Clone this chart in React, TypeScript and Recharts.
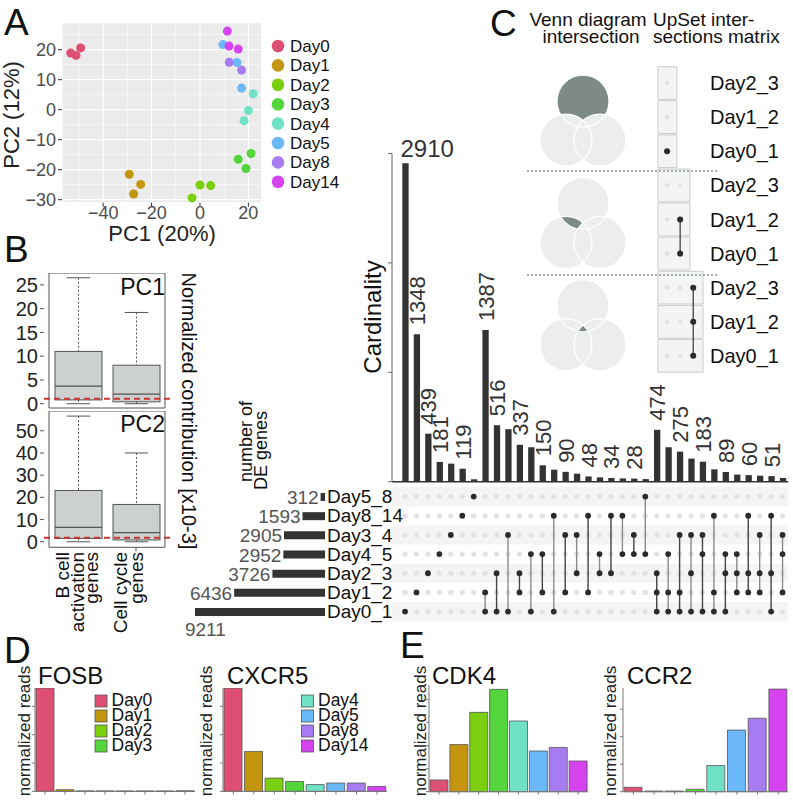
import React from "react";
import {
  ScatterChart,
  Scatter,
  BarChart,
  Bar,
  XAxis,
  YAxis,
  CartesianGrid,
  ReferenceLine,
  ReferenceArea,
  LabelList,
  Cell,
} from "recharts";

const FONT = "'Liberation Sans', Arial, Helvetica, sans-serif";
const INK = "#333333";

// shared palette
const days = ["Day0", "Day1", "Day2", "Day3", "Day4", "Day5", "Day8", "Day14"];
const dayColors = ["#dd5074", "#c4960f", "#7ccf0f", "#55d53c", "#70e0c6", "#6bb8f8", "#a77cf0", "#d443ee"];

// A: PCA
const pcaDay0 = [[-53.4, 18.9], [-51.2, 18.1], [-49.3, 20.6]];
const pcaDay1 = [[-29.2, -21.5], [-24.5, -24.9], [-27.4, -28.1]];
const pcaDay2 = [[-3.3, -29.4], [0, -25.1], [4.4, -25.3]];
const pcaDay3 = [[15.8, -16.5], [19.0, -19.6], [21.1, -14.6]];
const pcaDay4 = [[20.0, -0.3], [18.2, -3.7], [22.0, 5.3]];
const pcaDay5 = [[9.5, 21.7], [15.3, 15.7], [17.2, 7.2]];
const pcaDay8 = [[12.1, 15.8], [17.2, 13.2]];
const pcaDay14 = [[11.3, 26.2], [12.0, 21.2], [15.8, 20.2]];
const pcaGroups = [pcaDay0, pcaDay1, pcaDay2, pcaDay3, pcaDay4, pcaDay5, pcaDay8, pcaDay14];
const pc1Ticks = [-40, -20, 0, 20];
const pc1Minor = [-50, -30, -10, 10];
const pc2Ticks = [-30, -20, -10, 0, 10, 20];
const pc2Minor = [-25, -15, -5, 5, 15, 25];

// B: gene contributions (box stats, x10-3)
const boxNames = ["B cell activation genes", "Cell cycle genes"];
const pc1Min = [0, 0];
const pc1Q1 = [0.8, 0.4];
const pc1Median = [3.7, 2.0];
const pc1Q3 = [11.0, 8.1];
const pc1Max = [26.5, 19.2];
const pc1Cutoff = 1.05;
const pc2Min = [0, 0];
const pc2Q1 = [1.5, 0.8];
const pc2Median = [6.5, 4.1];
const pc2Q3 = [23.1, 16.8];
const pc2Max = [56.6, 40.0];
const pc2Cutoff = 1.8;

// C: UpSet
const setRows = ["Day5_8", "Day8_14", "Day3_4", "Day4_5", "Day2_3", "Day1_2", "Day0_1"];
const setSizes = [312, 1593, 2905, 2952, 3726, 6436, 9211];
const intersectionSizes = [
  2910, 1348, 439, 181, 165, 119, 22,
  1387, 516, 480, 337, 315, 150, 110, 90, 73, 48, 40, 34, 30, 28, 24,
  474, 315, 275, 211, 183, 113, 89, 65, 60, 55, 51, 34,
];
const labelledIntersections = [1, 2, 3, 4, 6, 8, 9, 11, 13, 15, 17, 19, 21, 23, 25, 27, 29, 31, 33];
const intersectionSets = [
  ["Day0_1"], ["Day1_2"], ["Day2_3"], ["Day4_5"], ["Day3_4"], ["Day8_14"], ["Day5_8"],
  ["Day0_1", "Day1_2"], ["Day0_1", "Day2_3"], ["Day0_1", "Day3_4"], ["Day1_2", "Day2_3"],
  ["Day0_1", "Day4_5"], ["Day1_2", "Day4_5"], ["Day0_1", "Day8_14"], ["Day1_2", "Day3_4"],
  ["Day2_3", "Day3_4"], ["Day1_2", "Day8_14"], ["Day2_3", "Day4_5"], ["Day2_3", "Day8_14"],
  ["Day4_5", "Day8_14"], ["Day3_4", "Day4_5"], ["Day4_5", "Day5_8"],
  ["Day0_1", "Day1_2", "Day2_3"], ["Day0_1", "Day1_2", "Day4_5"], ["Day0_1", "Day1_2", "Day3_4"],
  ["Day0_1", "Day2_3", "Day3_4"], ["Day0_1", "Day3_4", "Day4_5"], ["Day0_1", "Day1_2", "Day8_14"],
  ["Day0_1", "Day2_3", "Day4_5"], ["Day1_2", "Day2_3", "Day4_5"], ["Day1_2", "Day2_3", "Day8_14"],
  ["Day1_2", "Day2_3", "Day3_4"], ["Day0_1", "Day2_3", "Day8_14"], ["Day1_2", "Day3_4", "Day4_5"],
];
const cardTicks = [0, 1000, 2000, 3000];

// C legend (Venn / matrix explanation)
const legendRows = ["Day2_3", "Day1_2", "Day0_1"];
const legendSets = [["Day0_1"], ["Day0_1", "Day1_2"], ["Day0_1", "Day1_2", "Day2_3"]];
const vennCircles = ["Day0_1", "Day1_2", "Day2_3"]; // top, left, right

// D / E: normalized reads per day
const fosbReads = [3650, 60, 18, 18, 15, 15, 15, 22];
const cxcr5Reads = [365, 141, 47, 35, 24, 29.5, 29.5, 17.5];
const cdk4Reads = [10.2, 41, 69, 89, 61.5, 35.4, 38.5, 26.7];
const ccr2Reads = [1.6, 0.25, 0.25, 0.9, 9.5, 22.4, 26.7, 37.3];

const tickStyle = (size: number, fill: string) => ({ fontSize: size, fill, fontFamily: FONT });
const emptyTick = () => <g />;

function BoxShape(props: any) {
  const { x, width, payload } = props;
  const top = Math.min(props.y, props.y + props.height);
  const h = Math.abs(props.height);
  const [q1, q3] = payload.box;
  const k = h / (q3 - q1);
  const cx = x + width / 2;
  const yMed = top + (q3 - payload.median) * k;
  const yMax = top - (payload.max - q3) * k;
  const yMin = top + h + (q1 - payload.min) * k;
  const cap = width * 0.25;
  return (
    <g>
      <line x1={cx} x2={cx} y1={yMax} y2={top} stroke="#555" strokeDasharray="2 2" />
      <line x1={cx} x2={cx} y1={top + h} y2={yMin} stroke="#555" strokeDasharray="2 2" />
      <line x1={cx - cap} x2={cx + cap} y1={yMax} y2={yMax} stroke="#555" />
      <line x1={cx - cap} x2={cx + cap} y1={yMin} y2={yMin} stroke="#555" />
      <rect x={x} y={top} width={width} height={h} fill="#ccd1d0" stroke="#555" />
      <line x1={x} x2={x + width} y1={yMed} y2={yMed} stroke="#555" strokeWidth={1.3} />
    </g>
  );
}

function BoxPanel({ top, height, bottomPad, mins, q1s, medians, q3s, maxs, cutoff, domain, ticks, showX }: any) {
  const data = boxNames.map((name, i) => ({
    name,
    box: [q1s[i], q3s[i]],
    min: mins[i],
    median: medians[i],
    max: maxs[i],
  }));
  return (
    <div style={{ position: "absolute", left: 0, top }}>
      <BarChart width={170} height={height + bottomPad} data={data} margin={{ top: 0, right: 0, bottom: bottomPad, left: 0 }}>
        <XAxis
          dataKey="name"
          hide={!showX}
          padding={{ left: 5, right: 5 }}
          tick={emptyTick}
          tickSize={4}
          height={6}
          axisLine={false}
          tickLine={{ stroke: "#555" }}
        />
        <YAxis
          type="number"
          domain={domain}
          ticks={ticks}
          interval={0}
          width={44}
          allowDataOverflow
          tickSize={4}
          tickMargin={2}
          axisLine={false}
          tickLine={{ stroke: "#555" }}
          tick={tickStyle(20, "#222")}
        />
        <ReferenceArea y1={domain[0]} y2={domain[1]} fill="#ffffff" fillOpacity={0} stroke="#555" strokeWidth={1} />
        <Bar dataKey="box" barSize={47} shape={BoxShape} isAnimationActive={false} />
        <ReferenceLine y={cutoff} stroke="#c8342f" strokeDasharray="6 4" strokeWidth={1.8} />
      </BarChart>
    </div>
  );
}

function ExprChart({ left, top, plotWidth, plotHeight, values, domainMax, ticks }: any) {
  const data = days.map((d, i) => ({ day: d, reads: values[i] }));
  return (
    <div style={{ position: "absolute", left, top }}>
      <BarChart
        width={35 + plotWidth}
        height={plotHeight + 6}
        data={data}
        margin={{ top: 0, right: 0, bottom: 0, left: 0 }}
        barSize={18}
      >
        <XAxis dataKey="day" tick={emptyTick} tickSize={3} height={6} interval={0} axisLine={{ stroke: "#777" }} tickLine={{ stroke: "#777" }} />
        <YAxis
          type="number"
          domain={[0, domainMax]}
          ticks={ticks}
          interval={0}
          width={35}
          tick={emptyTick}
          tickSize={3}
          axisLine={{ stroke: "#777" }}
          tickLine={{ stroke: "#777" }}
        />
        <Bar dataKey="reads" stroke="#555" strokeWidth={0.8} isAnimationActive={false}>
          {data.map((d, i) => (
            <Cell key={d.day} fill={dayColors[i]} />
          ))}
        </Bar>
      </BarChart>
    </div>
  );
}

function renderCardLabel(p: any) {
  if (p.value == null) return null;
  const cx = p.x + p.width / 2;
  if (p.index === 0) {
    return (
      <text x={cx - 5} y={p.y - 6} fontSize={24} fill={INK} fontFamily={FONT}>
        {p.value}
      </text>
    );
  }
  const bx = cx + 8;
  const by = p.y - 9;
  return (
    <text x={bx} y={by} transform={`rotate(-90 ${bx} ${by})`} fontSize={22} fill={INK} fontFamily={FONT}>
      {p.value}
    </text>
  );
}

function renderSetLabel(p: any) {
  const left = Math.min(p.x, p.x + p.width);
  const cy = p.y + p.height / 2;
  if (p.value === Math.max(...setSizes)) {
    return (
      <text x={left - 10} y={cy + 24} fontSize={19} fill="#555" fontFamily={FONT}>
        {p.value}
      </text>
    );
  }
  return (
    <text x={left - 2} y={cy + 7} fontSize={19} fill="#555" textAnchor="end" fontFamily={FONT}>
      {p.value}
    </text>
  );
}

function VennShape(props: any) {
  const { cx, cy, payload } = props;
  const r = 26;
  const pos = [
    [cx, cy - 16],
    [cx - 17, cy + 23],
    [cx + 17, cy + 23],
  ];
  const inc = vennCircles.map((s) => payload.sets.includes(s));
  const id = `venn${payload.group}`;
  const light = "#eceeed";
  const dark = "#7e8a88";
  const excluded = pos.filter((_, i) => !inc[i]);
  let hl: any = (
    <g>
      <rect x={cx - 60} y={cy - 60} width={120} height={120} fill={dark} />
      {excluded.map((c, i) => (
        <circle key={i} cx={c[0]} cy={c[1]} r={r} fill={light} />
      ))}
    </g>
  );
  pos.forEach((c, i) => {
    if (inc[i]) hl = <g clipPath={`url(#${id}c${i})`}>{hl}</g>;
  });
  return (
    <g>
      <defs>
        {pos.map((c, i) => (
          <clipPath key={i} id={`${id}c${i}`}>
            <circle cx={c[0]} cy={c[1]} r={r} />
          </clipPath>
        ))}
      </defs>
      {pos.map((c, i) => (
        <circle key={i} cx={c[0]} cy={c[1]} r={r} fill={light} />
      ))}
      {hl}
      {pos.map((c, i) => (
        <circle key={"o" + i} cx={c[0]} cy={c[1]} r={r} fill="none" stroke="#ffffff" strokeWidth={1.2} />
      ))}
    </g>
  );
}

function Overlay() {
  const t = (x: number, y: number, s: string, size: number, extra: any = {}) => (
    <text x={x} y={y} fontSize={size} fontFamily={FONT} fill="#111" {...extra}>
      {s}
    </text>
  );
  const rot = (x: number, y: number, s: string, size: number, angle: number, anchor = "middle", fill = "#111") => (
    <text
      x={x}
      y={y}
      fontSize={size}
      fontFamily={FONT}
      fill={fill}
      textAnchor={anchor}
      transform={`rotate(${angle} ${x} ${y})`}
    >
      {s}
    </text>
  );
  return (
    <svg width={793} height={800} style={{ position: "absolute", left: 0, top: 0, pointerEvents: "none" }}>
      {/* panel letters */}
      {t(4, 35, "A", 37)}
      {t(4, 262, "B", 37)}
      {t(490, 36, "C", 37)}
      {t(4, 663, "D", 37)}
      {t(400, 658, "E", 37)}

      {/* A */}
      {rot(19, 115, "PC2 (12%)", 22, -90, "middle", "#222")}
      {t(162, 241, "PC1 (20%)", 22, { textAnchor: "middle", fill: "#222" })}
      {days.map((d, i) => (
        <g key={d}>
          <circle cx={278} cy={46 + i * 19.4} r={6.3} fill={dayColors[i]} />
          {t(290, 46 + i * 19.4 + 6, d, 17)}
        </g>
      ))}

      {/* B */}
      {t(165, 295, "PC1", 23, { textAnchor: "end" })}
      {t(165, 432, "PC2", 23, { textAnchor: "end" })}
      {rot(182, 411, "Normalized contribution [x10-3]", 20, 90)}
      {rot(69, 552, "B cell", 19, -90, "end")}
      {rot(84, 552, "activation", 19, -90, "end")}
      {rot(98, 552, "genes", 19, -90, "end")}
      {rot(127, 552, "Cell cycle", 19, -90, "end")}
      {rot(143, 552, "genes", 19, -90, "end")}

      {/* C */}
      {t(588, 26, "Venn diagram", 19, { textAnchor: "middle" })}
      {t(591, 43, "intersection", 19, { textAnchor: "middle" })}
      {t(653, 26, "UpSet inter-", 19)}
      {t(653, 43, "sections matrix", 19)}
      <line x1={527} x2={719} y1={171} y2={171} stroke="#8a9493" strokeWidth={1.6} strokeDasharray="2 2" />
      <line x1={527} x2={719} y1={275} y2={275} stroke="#8a9493" strokeWidth={1.6} strokeDasharray="2 2" />
      {rot(381, 317, "Cardinality", 24, -90)}
      {rot(252, 482, "number of", 18, -90, "start")}
      {rot(267, 490, "DE genes", 18, -90, "start")}

      {/* D / E */}
      {t(38, 684, "FOSB", 24)}
      {t(227, 684, "CXCR5", 24)}
      {t(432, 684, "CDK4", 24)}
      {t(627, 684, "CCR2", 24)}
      {rot(30, 731, "normalized reads", 17, -90, "middle", "#222")}
      {rot(212, 731, "normalized reads", 17, -90, "middle", "#222")}
      {rot(426, 731, "normalized reads", 17, -90, "middle", "#222")}
      {rot(616, 731, "normalized reads", 17, -90, "middle", "#222")}
      {days.slice(0, 4).map((d, i) => (
        <g key={d}>
          <rect x={95} y={695 + i * 15} width={12} height={12} fill={dayColors[i]} stroke="#555" strokeWidth={0.8} />
          {t(111.5, 705.5 + i * 15, d, 17.5)}
        </g>
      ))}
      {days.slice(4).map((d, i) => (
        <g key={d}>
          <rect x={301.5} y={695 + i * 15} width={12} height={12} fill={dayColors[i + 4]} stroke="#555" strokeWidth={0.8} />
          {t(318, 705.5 + i * 15, d, 17.5)}
        </g>
      ))}
    </svg>
  );
}

export default function App() {
  const cardData = intersectionSizes.map((v, i) => ({
    col: i + 1,
    size: v,
    label: labelledIntersections.includes(i + 1) ? v : null,
  }));
  const setData = setRows.map((name, i) => ({ name, size: setSizes[i] }));
  const rowY = (s: string) => setRows.length - 1 - setRows.indexOf(s);
  const bgDots: any[] = [];
  intersectionSizes.forEach((_, i) => setRows.forEach((s) => bgDots.push({ x: i + 1, y: rowY(s) })));
  const stripeRows = [0, 2, 4, 6];

  const legendBoxes: any[] = [];
  const legendLight: any[] = [];
  const legendDark: any[][] = [];
  legendSets.forEach((sets, g) => {
    const active: any[] = [];
    legendRows.forEach((s, r) => {
      const row = g * 3 + r;
      legendBoxes.push({ row, ncol: g + 1 });
      for (let c = 0; c <= g; c++) {
        if (c === g && sets.includes(s)) active.push({ x: c, y: row });
        else legendLight.push({ x: c, y: row });
      }
    });
    legendDark.push(active);
  });
  const vennData = legendSets.map((sets, g) => ({ x: 0.5, y: g * 3 + 1, sets, group: g }));

  return (
    <div
      style={{
        position: "absolute",
        left: 0,
        top: 0,
        width: 793,
        height: 800,
        background: "#ffffff",
        fontFamily: FONT,
        overflow: "hidden",
      }}
    >
      {/* A: PCA */}
      <div style={{ position: "absolute", left: 0, top: 0 }}>
        <ScatterChart width={262} height={245} margin={{ top: 22.7, right: 0.3, bottom: 0, left: 0 }}>
          <CartesianGrid fill="#ebebeb" stroke="#ffffff" strokeWidth={1.2} />
          {pc1Minor.map((v) => (
            <ReferenceLine key={"mx" + v} x={v} stroke="#ffffff" strokeWidth={0.6} />
          ))}
          {pc2Minor.map((v) => (
            <ReferenceLine key={"my" + v} y={v} stroke="#ffffff" strokeWidth={0.6} />
          ))}
          <XAxis
            type="number"
            dataKey="x"
            domain={[-57, 25.5]}
            ticks={pc1Ticks}
            interval={0}
            height={42.3}
            tickSize={4}
            tickMargin={0}
            axisLine={false}
            tickLine={{ stroke: "#333" }}
            tick={tickStyle(18, "#4d4d4d")}
            tickFormatter={(v: number) => (v < 0 ? "\u2212" + Math.abs(v) : String(v))}
          />
          <YAxis
            type="number"
            dataKey="y"
            domain={[-31, 29]}
            ticks={pc2Ticks}
            interval={0}
            width={62}
            tickSize={4}
            tickMargin={2}
            axisLine={false}
            tickLine={{ stroke: "#333" }}
            tick={tickStyle(18, "#4d4d4d")}
            tickFormatter={(v: number) => (v < 0 ? "\u2212" + Math.abs(v) : String(v))}
          />
          {pcaGroups.map((g, i) => (
            <Scatter
              key={days[i]}
              data={g.map(([x, y]) => ({ x, y }))}
              isAnimationActive={false}
              shape={(p: any) => <circle cx={p.cx} cy={p.cy} r={4.5} fill={dayColors[i]} />}
            />
          ))}
        </ScatterChart>
      </div>

      {/* B: box plots */}
      <BoxPanel
        top={273.3}
        height={135}
        bottomPad={12}
        mins={pc1Min}
        q1s={pc1Q1}
        medians={pc1Median}
        q3s={pc1Q3}
        maxs={pc1Max}
        cutoff={pc1Cutoff}
        domain={[-0.9, 27.5]}
        ticks={[0, 5, 10, 15, 20, 25]}
        showX={false}
      />
      <BoxPanel
        top={411}
        height={142.3}
        bottomPad={0}
        mins={pc2Min}
        q1s={pc2Q1}
        medians={pc2Median}
        q3s={pc2Q3}
        maxs={pc2Max}
        cutoff={pc2Cutoff}
        domain={[-2.5, 58.9]}
        ticks={[0, 10, 20, 30, 40, 50]}
        showX={true}
      />

      {/* C: cardinality bars */}
      <div style={{ position: "absolute", left: 340, top: 130 }}>
        <BarChart width={453} height={356} data={cardData} margin={{ top: 23.5, right: 4.7, bottom: 4.3, left: 0 }}>
          <XAxis type="number" dataKey="col" hide domain={[-0.14, 34.5]} />
          <YAxis
            type="number"
            domain={[0, 3000]}
            ticks={cardTicks}
            interval={0}
            width={52}
            tick={emptyTick}
            tickSize={4}
            axisLine={{ stroke: "#666" }}
            tickLine={{ stroke: "#666" }}
          />
          <ReferenceLine y={0} stroke={INK} strokeWidth={1.5} />
          <Bar dataKey="size" fill={INK} barSize={6.3} isAnimationActive={false}>
            <LabelList dataKey="label" content={renderCardLabel} />
          </Bar>
        </BarChart>
      </div>

      {/* C: set sizes */}
      <div style={{ position: "absolute", left: 180, top: 487.1 }}>
        <BarChart layout="vertical" width={225} height={158.2} data={setData} margin={{ top: 0, right: 0, bottom: 24, left: 15 }}>
          <XAxis type="number" hide reversed domain={[0, 9211]} />
          <YAxis
            type="category"
            dataKey="name"
            orientation="right"
            width={80}
            interval={0}
            tickLine={false}
            axisLine={false}
            tickSize={0}
            tickMargin={2}
            tick={tickStyle(19, "#111")}
          />
          <Bar dataKey="size" fill={INK} barSize={8} isAnimationActive={false}>
            <LabelList dataKey="size" content={renderSetLabel} />
          </Bar>
        </BarChart>
      </div>

      {/* C: intersection matrix */}
      <div style={{ position: "absolute", left: 392, top: 487.1 }}>
        <ScatterChart width={401} height={134.2} margin={{ top: 0, right: 4.7, bottom: 0, left: 0 }}>
          <XAxis type="number" dataKey="x" hide domain={[-0.14, 34.5]} />
          <YAxis type="number" dataKey="y" hide domain={[-0.5, 6.5]} />
          {stripeRows.map((r) => (
            <ReferenceArea key={r} y1={r - 0.5} y2={r + 0.5} fill="#f4f4f4" fillOpacity={1} stroke="none" />
          ))}
          <Scatter
            data={bgDots}
            isAnimationActive={false}
            shape={(p: any) => <circle cx={p.cx} cy={p.cy} r={2.6} fill="#e3e3e3" />}
          />
          {intersectionSets.map((sets, i) => {
            const pts = sets.map((s) => ({ x: i + 1, y: rowY(s) })).sort((a, b) => a.y - b.y);
            return (
              <Scatter
                key={"m" + i}
                data={pts}
                isAnimationActive={false}
                line={pts.length > 1 ? { stroke: i % 2 === 0 ? "#444" : "#8a8a8a", strokeWidth: 1.4 } : false}
                shape={(p: any) => <circle cx={p.cx} cy={p.cy} r={2.9} fill="#2b2b2b" />}
              />
            );
          })}
        </ScatterChart>
      </div>

      {/* C legend: Venn sketches */}
      <div style={{ position: "absolute", left: 520, top: 66.25 }}>
        <ScatterChart width={126} height={306.9} margin={{ top: 0, right: 0, bottom: 0, left: 0 }}>
          <XAxis type="number" dataKey="x" hide domain={[0, 1]} />
          <YAxis type="number" dataKey="y" hide reversed domain={[-0.5, 8.5]} />
          <Scatter data={vennData} isAnimationActive={false} shape={VennShape} />
        </ScatterChart>
      </div>

      {/* C legend: mini matrix */}
      <div style={{ position: "absolute", left: 654, top: 66.25 }}>
        <ScatterChart width={131} height={306.9} margin={{ top: 0, right: 0, bottom: 0, left: 0 }}>
          <XAxis type="number" dataKey="x" hide domain={[-1, 2.9]} />
          <YAxis
            type="number"
            dataKey="y"
            orientation="right"
            reversed
            domain={[-0.5, 8.5]}
            ticks={[0, 1, 2, 3, 4, 5, 6, 7, 8]}
            interval={0}
            width={80}
            tickSize={0}
            tickMargin={5}
            tickLine={false}
            axisLine={false}
            tick={tickStyle(20, "#111")}
            tickFormatter={(v: number) => legendRows[v % 3]}
          />
          {legendBoxes.map((b) => (
            <ReferenceArea
              key={b.row}
              x1={-0.7}
              x2={b.ncol - 1 + 0.75}
              y1={b.row - 0.48}
              y2={b.row + 0.48}
              fill="#f3f4f4"
              fillOpacity={1}
              stroke="#c9cccb"
              strokeWidth={1}
            />
          ))}
          <Scatter
            data={legendLight}
            isAnimationActive={false}
            shape={(p: any) => <circle cx={p.cx} cy={p.cy} r={2.4} fill="#e3e3e3" />}
          />
          {legendDark.map((pts, g) => (
            <Scatter
              key={"ld" + g}
              data={pts}
              isAnimationActive={false}
              line={pts.length > 1 ? { stroke: "#444", strokeWidth: 1.3 } : false}
              shape={(p: any) => <circle cx={p.cx} cy={p.cy} r={3} fill="#2b2b2b" />}
            />
          ))}
        </ScatterChart>
      </div>

      {/* D / E: expression bars */}
      <ExprChart left={0} top={688.3} plotWidth={160} plotHeight={103.4} values={fosbReads} domainMax={3650} ticks={[0, 1000, 2000, 3000]} />
      <ExprChart left={187.7} top={688.3} plotWidth={164.3} plotHeight={103.4} values={cxcr5Reads} domainMax={365} ticks={[0, 100, 200, 300]} />
      <ExprChart left={394.3} top={685} plotWidth={159} plotHeight={106.7} values={cdk4Reads} domainMax={92.8} ticks={[0, 20, 40, 60, 80]} />
      <ExprChart left={587.7} top={688} plotWidth={165.6} plotHeight={103.7} values={ccr2Reads} domainMax={37.7} ticks={[0, 10, 20, 30]} />

      <Overlay />
    </div>
  );
}
